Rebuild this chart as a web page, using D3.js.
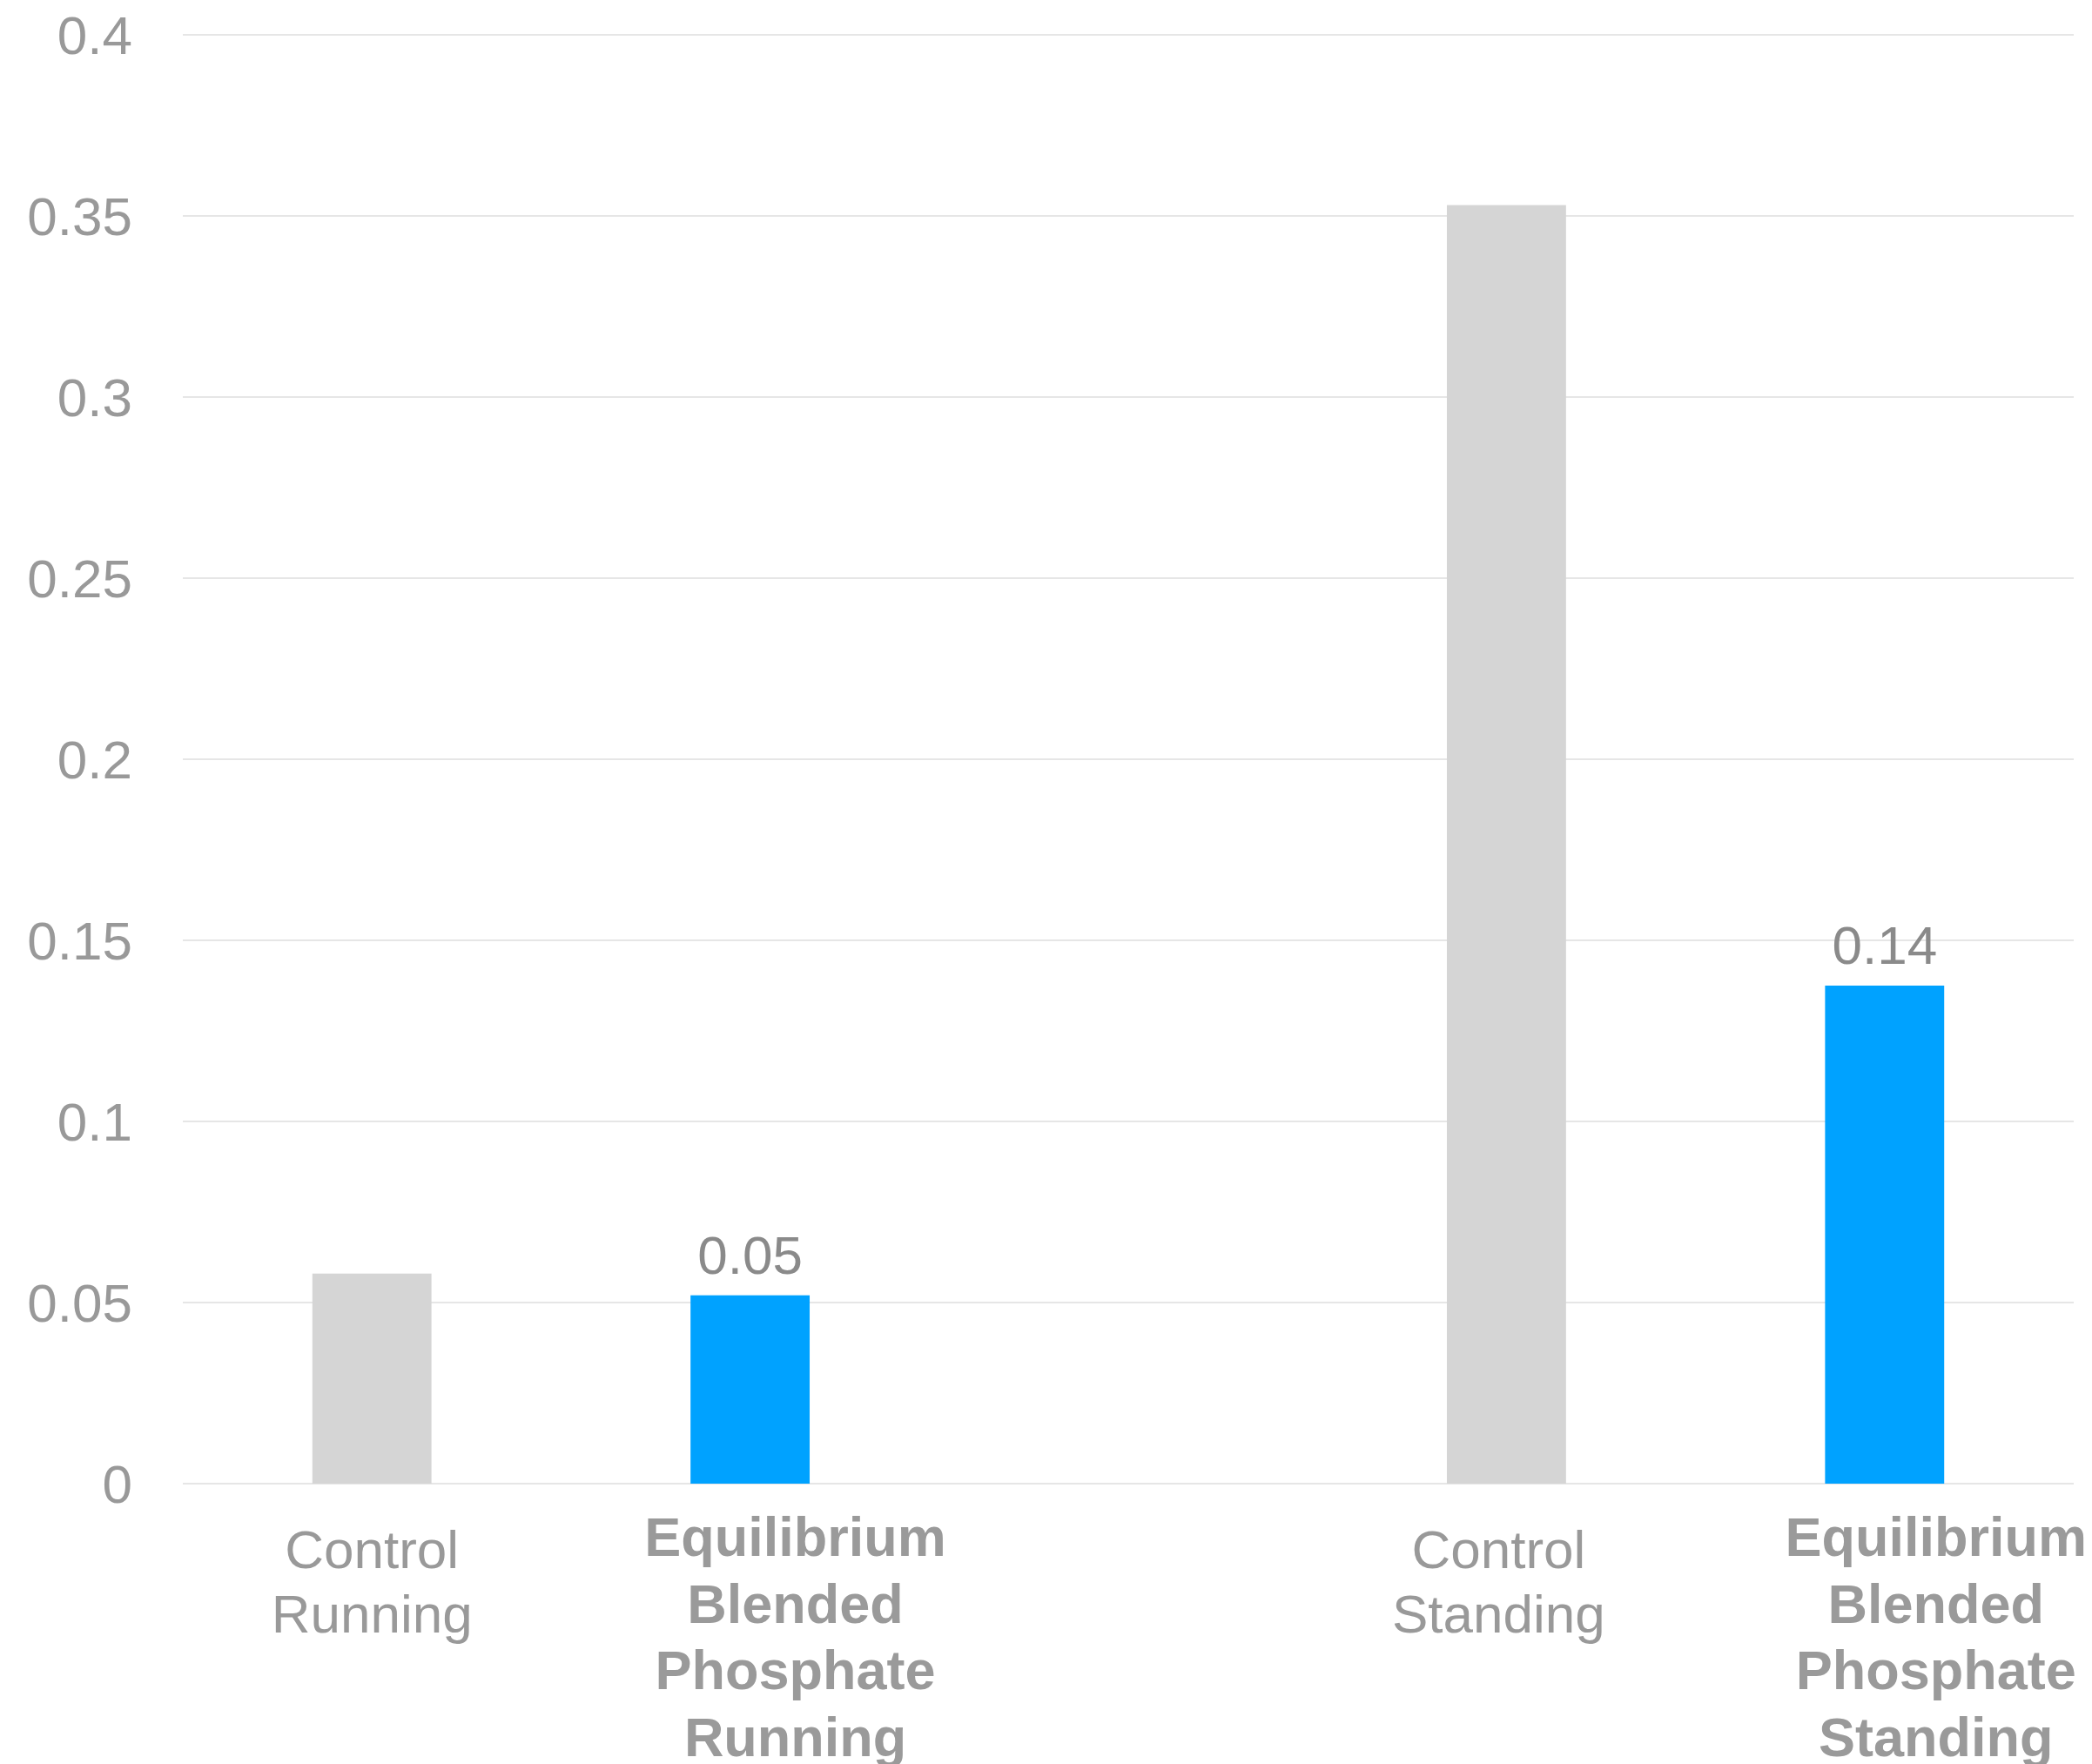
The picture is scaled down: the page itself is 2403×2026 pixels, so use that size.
<!DOCTYPE html>
<html>
<head>
<meta charset="utf-8">
<script src="https://cdn.jsdelivr.net/npm/d3@7"></script>
<style>
  html, body { margin: 0; padding: 0; background: #fff; }
  svg { display: block; }
  text { font-family: "Liberation Sans", Arial, sans-serif; }
</style>
</head>
<body>
<svg id="chart" width="2403" height="2026"></svg>
<script>
// Categories (the middle slot is an empty spacer between Running and Standing)
const categories = [
  "Control Running",
  "Equilibrium Blended Phosphate Running",
  "",
  "Control Standing",
  "Equilibrium Blended Phosphate Standing"
];
const categoryLines = [
  ["Control", "Running"],
  ["Equilibrium", "Blended", "Phosphate", "Running"],
  [],
  ["Control", "Standing"],
  ["Equilibrium", "Blended", "Phosphate", "Standing"]
];
const values = [0.058, 0.052, null, 0.353, 0.1375];
const valueLabels = [null, "0.05", null, null, "0.14"];
const isProduct = [false, true, false, false, true];
const yTicks = [0, 0.05, 0.1, 0.15, 0.2, 0.25, 0.3, 0.35, 0.4];
const yTickLabels = ["0", "0.05", "0.1", "0.15", "0.2", "0.25", "0.3", "0.35", "0.4"];

// Layout
const plot = { left: 210, right: 2382, top: 40, bottom: 1704 };
const labelShift = [0, 52, 0, -9, 59];
const colors = { control: "#d5d5d5", product: "#00a2ff", grid: "#e6e6e6",
                 tick: "#999999", value: "#8a8a8a", cat: "#999999" };

const svg = d3.select("#chart");

const x = d3.scaleBand()
  .domain(d3.range(categories.length))
  .range([plot.left, plot.right])
  .paddingInner(0.685)
  .paddingOuter(0.3425);

const y = d3.scaleLinear().domain([0, 0.4]).range([plot.bottom, plot.top]);

// Horizontal gridlines
svg.append("g").selectAll("line")
  .data(yTicks)
  .join("line")
  .attr("x1", plot.left).attr("x2", plot.right)
  .attr("y1", d => y(d)).attr("y2", d => y(d))
  .attr("stroke", colors.grid)
  .attr("stroke-width", 2);

// Y axis labels
const yAxis = d3.axisLeft(y)
  .tickValues(yTicks)
  .tickFormat((d, i) => yTickLabels[i])
  .tickSize(0)
  .tickPadding(0);
const yg = svg.append("g")
  .attr("transform", `translate(152,0)`)
  .call(yAxis);
yg.select(".domain").remove();
yg.selectAll("text")
  .attr("font-family", '"Liberation Sans", Arial, sans-serif')
  .attr("font-size", 62)
  .attr("fill", colors.tick)
  .attr("dy", "0.35em");

// Bars
const barData = values.map((v, i) => ({ v, i })).filter(d => d.v !== null);
svg.append("g").selectAll("rect")
  .data(barData)
  .join("rect")
  .attr("x", d => x(d.i))
  .attr("width", x.bandwidth())
  .attr("y", d => y(d.v))
  .attr("height", d => y(0) - y(d.v))
  .attr("fill", d => isProduct[d.i] ? colors.product : colors.control);

// Value labels
svg.append("g").selectAll("text")
  .data(barData.filter(d => valueLabels[d.i]))
  .join("text")
  .attr("x", d => x(d.i) + x.bandwidth() / 2)
  .attr("y", d => y(d.v) - 25)
  .attr("text-anchor", "middle")
  .attr("font-size", 62)
  .attr("fill", colors.value)
  .text(d => valueLabels[d.i]);

// Category labels
const catG = svg.append("g");
categoryLines.forEach((lines, i) => {
  if (!lines.length) return;
  const bold = isProduct[i];
  const cx = x(i) + x.bandwidth() / 2 + labelShift[i];
  const firstBaseline = bold ? 1787 : 1801;
  const lineH = bold ? 76.7 : 74;
  const t = catG.append("text")
    .attr("text-anchor", "middle")
    .attr("font-size", bold ? 63 : 62)
    .attr("font-weight", bold ? "bold" : "normal")
    .attr("fill", bold ? "#9a9a9a" : colors.cat);
  lines.forEach((ln, k) => {
    t.append("tspan")
      .attr("x", cx)
      .attr("y", firstBaseline + k * lineH)
      .text(ln);
  });
});
</script>
</body>
</html>
